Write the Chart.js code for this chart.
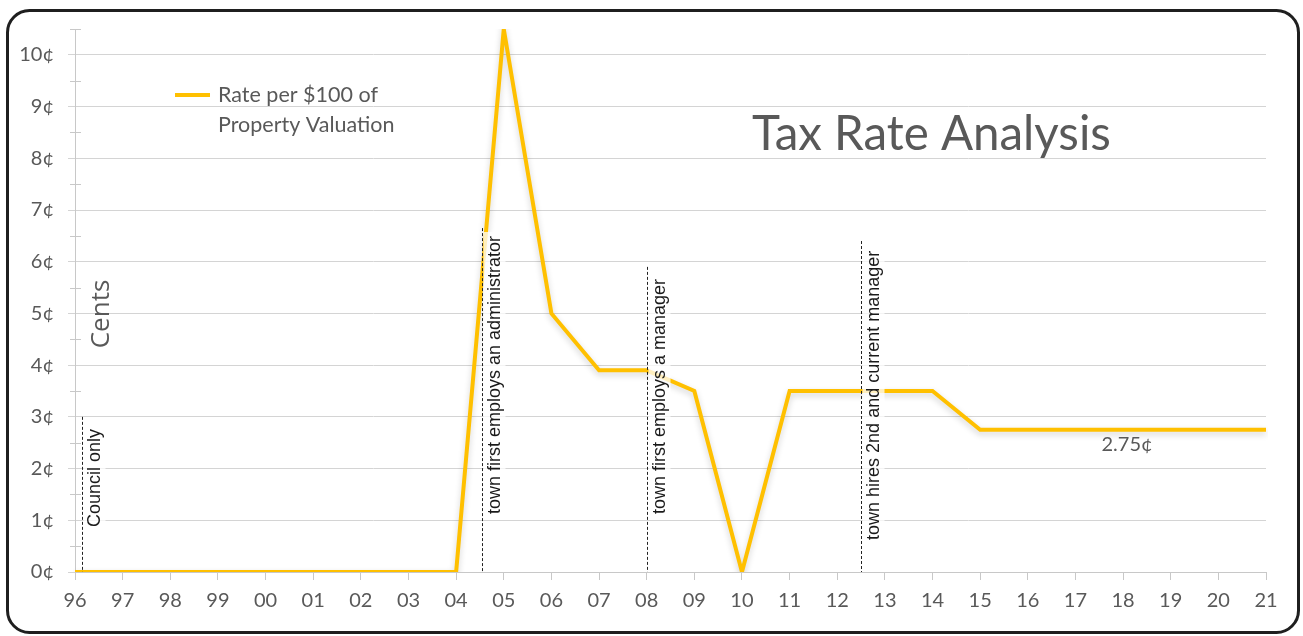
<!DOCTYPE html>
<html>
<head>
<meta charset="utf-8">
<script src="https://cdn.jsdelivr.net/npm/chart.js@4"></script>
<style>
  html, body { margin: 0; padding: 0; background: #fff; }
  #wrap { width: 1303px; height: 636px; position: relative; }
</style>
</head>
<body>
<div id="wrap"><canvas id="taxChart" width="1303" height="636"></canvas></div>
<script>
// data
const years = ['96','97','98','99','00','01','02','03','04','05','06','07','08','09','10','11','12','13','14','15','16','17','18','19','20','21'];
const rates = [0,0,0,0,0,0,0,0,0,10.5,5,3.9,3.9,3.5,0,3.5,3.5,3.5,3.5,2.75,2.75,2.75,2.75,2.75,2.75,2.75];
const centTicks = [0,1,2,3,4,5,6,7,8,9,10];

// event notes (x in category index, top of dashed line in cents)
const noteAt = [0.15, 8.55, 12, 16.5];
const noteTop = [3, 6.65, 5.9, 6.4];
const noteStart = [0.87, 1.12, 1.12, 0.62];
const noteText = ['Council only', 'town first employs an administrator', 'town first employs a manager', 'town hires 2nd and current manager'];

const lastValueLabel = '2.75¢';

const grey = '#595959';
const gold = '#FFC000';

const extras = {
  id: 'extras',
  beforeDatasetsDraw(chart) {
    const ctx = chart.ctx;
    ctx.save();
    ctx.shadowColor = 'rgba(0,0,0,0.18)';
    ctx.shadowBlur = 6;
    ctx.shadowOffsetY = 3;
  },
  afterDatasetsDraw(chart) {
    const ctx = chart.ctx;
    ctx.restore();
    const x = chart.scales.x, y = chart.scales.y;

    // minor ticks on y axis
    ctx.save();
    ctx.strokeStyle = '#c8c8c8';
    ctx.lineWidth = 1;
    for (let v = 0.5; v <= 10.5; v += 1) {
      const py = Math.round(y.getPixelForValue(v)) + 0.5;
      ctx.beginPath();
      ctx.moveTo(x.left - 5, py);
      ctx.lineTo(x.left + 6, py);
      ctx.stroke();
    }
    ctx.restore();

    // notes
    ctx.save();
    ctx.font = '18px "Liberation Sans Narrow", "Liberation Sans", sans-serif';
    noteText.forEach((t, i) => {
      const px = Math.round(x.getPixelForValue(noteAt[i])) + 0.5;
      const top = y.getPixelForValue(noteTop[i]);
      const start = y.getPixelForValue(noteStart[i]);
      const w = ctx.measureText(t).width;
      // faded box behind text
      ctx.fillStyle = 'rgba(255,255,255,0.75)';
      ctx.fillRect(px + 1, start - w - 4, 22, w + 8);
      // dashed line
      ctx.strokeStyle = '#222';
      ctx.lineWidth = 1;
      ctx.setLineDash([3, 2]);
      ctx.beginPath();
      ctx.moveTo(px, top);
      ctx.lineTo(px, y.bottom);
      ctx.stroke();
      ctx.setLineDash([]);
      // text
      ctx.save();
      ctx.translate(px + 4, start);
      ctx.rotate(-Math.PI / 2);
      ctx.fillStyle = '#1a1a1a';
      ctx.textAlign = 'left';
      ctx.textBaseline = 'top';
      ctx.fillText(t, 0, 0);
      ctx.restore();
    });
    ctx.restore();

    // axis title
    ctx.save();
    ctx.font = '26px "Open Sans", sans-serif';
    ctx.fillStyle = grey;
    ctx.translate(102, 314);
    ctx.rotate(-Math.PI / 2);
    ctx.textAlign = 'center';
    ctx.textBaseline = 'middle';
    ctx.fillText('Cents', 0, 0);
    ctx.restore();

    // chart title
    ctx.save();
    ctx.font = '47.5px Lato, sans-serif';
    ctx.fillStyle = grey;
    ctx.textAlign = 'left';
    ctx.textBaseline = 'middle';
    ctx.fillText('Tax Rate Analysis', 752, 135);
    ctx.restore();

    // legend
    ctx.save();
    ctx.strokeStyle = gold;
    ctx.lineWidth = 4;
    ctx.beginPath();
    ctx.moveTo(175, 95);
    ctx.lineTo(210, 95);
    ctx.stroke();
    ctx.font = '21.5px Lato, sans-serif';
    ctx.fillStyle = grey;
    ctx.textBaseline = 'middle';
    ctx.fillText('Rate per $100 of', 218, 95);
    ctx.fillText('Property Valuation', 218, 125);
    ctx.restore();

    // last value label
    ctx.save();
    ctx.font = '20px Lato, sans-serif';
    ctx.fillStyle = grey;
    ctx.textAlign = 'center';
    ctx.textBaseline = 'middle';
    const lastIdx = rates.length - 1;
    ctx.fillText(lastValueLabel, x.getPixelForValue(lastIdx - 3) + 4, y.getPixelForValue(rates[lastIdx]) + 15);
    ctx.restore();
  },
  afterDraw(chart) {
    const ctx = chart.ctx;
    ctx.save();
    ctx.strokeStyle = '#1f1f1f';
    ctx.lineWidth = 3;
    ctx.beginPath();
    ctx.roundRect(7.5, 10.5, 1291, 622, 22);
    ctx.stroke();
    ctx.restore();
  }
};

const ctx = document.getElementById('taxChart').getContext('2d');
const taxChart = new Chart(ctx, {
  type: 'line',
  data: {
    labels: years,
    datasets: [{
      label: 'Rate per $100 of Property Valuation',
      data: rates,
      borderColor: gold,
      borderWidth: 4,
      pointRadius: 0,
      tension: 0,
      fill: false
    }]
  },
  options: {
    responsive: false,
    animation: false,
    layout: { padding: { top: 29, right: 37, bottom: 0, left: 0 } },
    plugins: {
      legend: { display: false },
      tooltip: { enabled: false }
    },
    scales: {
      x: {
        offset: false,
        afterFit(scale) { scale.height = 64; },
        grid: { drawOnChartArea: false, tickLength: 8, color: '#c8c8c8' },
        border: { color: '#c8c8c8' },
        ticks: { color: grey, font: { family: 'Lato', size: 20 }, padding: 9, maxRotation: 0, autoSkip: false }
      },
      y: {
        min: 0,
        max: 10.5,
        afterFit(scale) { scale.width = 75; },
        grid: {
          tickLength: 7,
          color: c => (c.tick && c.tick.value % 1 === 0) ? '#d4d4d4' : 'rgba(0,0,0,0)'
        },
        border: { color: '#c8c8c8' },
        ticks: {
          stepSize: 0.5,
          color: grey,
          font: { family: 'Lato', size: 20 },
          padding: 14,
          callback: v => centTicks.includes(v) ? v + '¢' : ''
        }
      }
    }
  },
  plugins: [extras]
});
</script>
</body>
</html>
